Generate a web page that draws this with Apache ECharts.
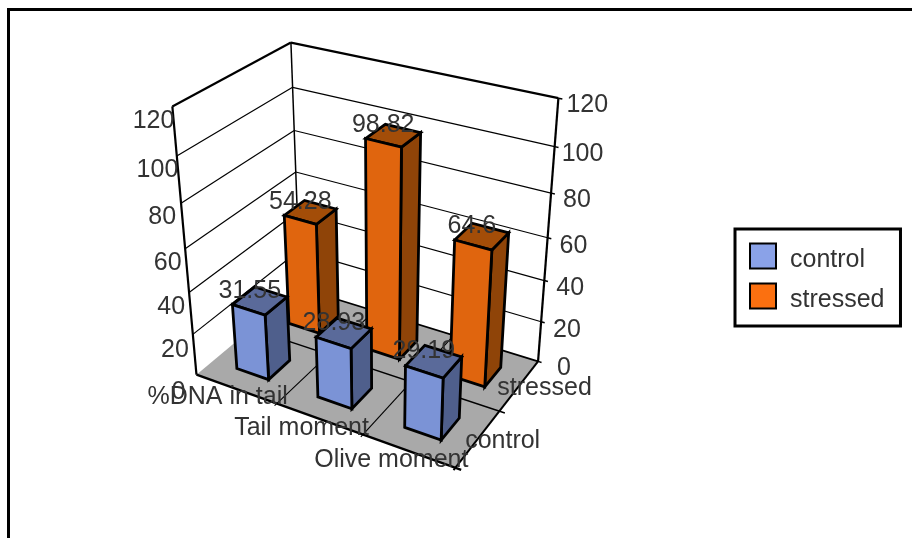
<!DOCTYPE html>
<html>
<head>
<meta charset="utf-8">
<style>html,body{margin:0;padding:0;background:#fff;overflow:hidden}#chart{width:912px;height:538px}</style>
<script src="https://cdn.jsdelivr.net/npm/echarts@6/dist/echarts.min.js"></script>
</head>
<body>
<div id="chart"></div>
<script>
// Chart values
var categories = ['%DNA in tail', 'Tail moment', 'Olive moment'];
var seriesNames = ['control', 'stressed'];
var controlValues = [31.55, 28.93, 29.19];
var stressedValues = [54.28, 98.82, 64.6];
var valueTicks = [0, 20, 40, 60, 80, 100, 120];

// Label offsets from the projected axis points, in axis order
var leftLabelShift = [[-11, 17], [-4, 16], [-4, 15], [-3.5, 14], [-5, 14], [1.5, 14], [2, 15]];
var rightLabelShift = [[19, 7], [12, 8], [12, 8], [12, 8], [12, 7], [7, 7], [8, 7]];
var categoryLabelShift = [[11, -6], [6, -6], [13, -8]];
var seriesLabelShift = [[-13, 3], [-22, 3]];

// Camera calibration: box landmarks [category, depth, value, screenX, screenY]
var anchors = [
  [0,0,0,195,373],[3,0,0,458,468],[3,2,0,537,362],[0,2,0,302,290],
  [0,0,120,172,108],[0,2,120,291,42],[3,2,120,558,98],
  [0,0,100,177.7,156.7],[0,0,80,181,204],[0,0,60,185,249],[0,0,40,188,292.7],[0,0,20,192.7,332.7],
  [3,2,100,556.7,146.7],[3,2,80,549.5,192.7],[3,2,60,546.7,237],[3,2,40,545,280.7],[3,2,20,540,322],
  [0,2,100,293,86.7],[0,2,80,294,130],[0,2,60,295.7,171.7]
];

// Least-squares projective camera (eleven unknowns, last matrix entry fixed at 1)
function solveCamera(points) {
  var n = 11, A = [], b = [], i, j, k;
  for (i = 0; i < n; i++) { A.push(new Array(n).fill(0)); b.push(0); }
  function addRow(row, rhs) {
    for (var p = 0; p < n; p++) {
      b[p] += row[p] * rhs;
      for (var q = 0; q < n; q++) A[p][q] += row[p] * row[q];
    }
  }
  points.forEach(function (a) {
    var X = a[0], Y = a[1], Z = a[2] / 100, u = a[3], v = a[4];
    addRow([X, Y, Z, 1, 0, 0, 0, 0, -u * X, -u * Y, -u * Z], u);
    addRow([0, 0, 0, 0, X, Y, Z, 1, -v * X, -v * Y, -v * Z], v);
  });
  for (i = 0; i < n; i++) {
    var piv = i;
    for (j = i + 1; j < n; j++) if (Math.abs(A[j][i]) > Math.abs(A[piv][i])) piv = j;
    var t = A[i]; A[i] = A[piv]; A[piv] = t;
    t = b[i]; b[i] = b[piv]; b[piv] = t;
    for (j = i + 1; j < n; j++) {
      var f = A[j][i] / A[i][i];
      for (k = i; k < n; k++) A[j][k] -= f * A[i][k];
      b[j] -= f * b[i];
    }
  }
  var m = new Array(n);
  for (i = n - 1; i >= 0; i--) {
    var s = b[i];
    for (k = i + 1; k < n; k++) s -= A[i][k] * m[k];
    m[i] = s / A[i][i];
  }
  return m;
}
var cam = solveCamera(anchors);
function project(c, d, v) {
  var z = v / 100, w = cam[8] * c + cam[9] * d + cam[10] * z + 1;
  return [
    (cam[0] * c + cam[1] * d + cam[2] * z + cam[3]) / w,
    (cam[4] * c + cam[5] * d + cam[6] * z + cam[7]) / w
  ];
}

var FONT = '25px "Liberation Sans"';
var TEXT = '#333333';
var BAR_WIDTH = 0.4;

function line(api, a, b, width) {
  var p = api.coord(project(a[0], a[1], a[2])), q = api.coord(project(b[0], b[1], b[2]));
  return { type: 'line', shape: { x1: p[0], y1: p[1], x2: q[0], y2: q[1] }, style: { stroke: '#000', lineWidth: width } };
}
function poly(api, corners, fill) {
  return {
    type: 'polygon',
    shape: { points: corners.map(function (k) { return api.coord(project(k[0], k[1], k[2])); }) },
    style: { fill: fill, stroke: '#000', lineWidth: 2.8, lineJoin: 'miter' }
  };
}
function text(str, x, y, align) {
  return { type: 'text', z2: 50, style: { text: str, x: x, y: y, font: FONT, fill: TEXT, align: align, verticalAlign: 'middle' } };
}

// Walls, floor, grid lines, ticks and axis labels
function renderBox(params, api) {
  var kids = [];
  kids.push({
    type: 'polygon',
    shape: { points: [[0,0,0],[3,0,0],[3,2,0],[0,2,0]].map(function (k) { return api.coord(project(k[0], k[1], k[2])); }) },
    style: { fill: '#a9a9a9' }
  });
  valueTicks.forEach(function (v, i) {
    var w = v === 120 ? 2.2 : 1.2;
    if (v > 0) kids.push(line(api, [0,0,v], [0,2,v], w));
    kids.push(line(api, [0,2,v], [3,2,v], v === 0 ? 1.8 : w));
    kids.push(line(api, [3,2,v], [3.04,2,v], 1.5));
    var l = api.coord(project(0,0,v)), r = api.coord(project(3,2,v));
    kids.push(text(String(v), l[0] + leftLabelShift[i][0], l[1] + leftLabelShift[i][1], 'right'));
    kids.push(text(String(v), r[0] + rightLabelShift[i][0], r[1] + rightLabelShift[i][1], 'left'));
  });
  kids.push(line(api, [0,0,0], [0,0,120], 2.2));
  kids.push(line(api, [0,2,0], [0,2,120], 1.5));
  kids.push(line(api, [3,2,0], [3,2,120], 2.2));
  kids.push(line(api, [1,-0.04,0], [1,2,0], 1.1));
  kids.push(line(api, [2,-0.04,0], [2,2,0], 1.1));
  kids.push(line(api, [0,1,0], [3.06,1,0], 1.4));
  kids.push(line(api, [3,-0.04,0], [3,2,0], 2));
  kids.push(line(api, [0,0,0], [3.06,0,0], 2.4));
  categories.forEach(function (name, i) {
    var p = api.coord(project(i + 1, 0, 0));
    kids.push(text(name, p[0] + categoryLabelShift[i][0], p[1] + categoryLabelShift[i][1], 'right'));
  });
  seriesNames.forEach(function (name, i) {
    var p = api.coord(project(3, i + 0.5, 0));
    kids.push(text(name, p[0] + seriesLabelShift[i][0], p[1] + seriesLabelShift[i][1], 'left'));
  });
  return { type: 'group', children: kids };
}

// One bar as three visible faces plus its value label
function barRenderer(depth, colors) {
  return function (params, api) {
    var i = api.value(0), v = api.value(1);
    var x0 = i + 0.5 - BAR_WIDTH / 2, x1 = i + 0.5 + BAR_WIDTH / 2;
    var d0 = depth + 0.5 - BAR_WIDTH / 2, d1 = depth + 0.5 + BAR_WIDTH / 2;
    var top = api.coord(project(i + 0.5, depth + 0.5, v));
    return {
      type: 'group',
      children: [
        poly(api, [[x1,d0,0],[x1,d1,0],[x1,d1,v],[x1,d0,v]], colors.side),
        poly(api, [[x0,d0,v],[x1,d0,v],[x1,d1,v],[x0,d1,v]], colors.top),
        poly(api, [[x0,d0,0],[x1,d0,0],[x1,d0,v],[x0,d0,v]], colors.front),
        text(String(v), top[0] - 10, top[1] - 10, 'center')
      ]
    };
  };
}
function toRows(values) { return values.map(function (v, i) { return [i, v]; }); }

var chart = echarts.init(document.getElementById('chart'), null, { renderer: 'canvas' });
chart.setOption({
  animation: false,
  backgroundColor: '#ffffff',
  grid: { left: 0, right: 0, top: 0, bottom: 0 },
  // Screen-space axes that carry the projected positions
  xAxis: { type: 'value', min: 0, max: 912, show: false },
  yAxis: { type: 'value', min: 0, max: 538, inverse: true, show: false },
  legend: {
    orient: 'vertical', left: 735, top: 229, padding: [10, 16, 13, 14],
    itemWidth: 26, itemHeight: 25, itemGap: 6, icon: 'rect',
    backgroundColor: '#fff', borderColor: '#000', borderWidth: 3, borderRadius: 0,
    selectedMode: false,
    formatter: '{t|{name}}',
    textStyle: {
      padding: [0, 0, 0, 9],
      rich: { t: { fontFamily: 'Liberation Sans', fontSize: 25, lineHeight: 25, color: TEXT, padding: [9, 0, 0, 0] } }
    },
    data: [
      { name: 'control', itemStyle: { color: '#8aa2e8', borderColor: '#000', borderWidth: 2 } },
      { name: 'stressed', itemStyle: { color: '#fb7010', borderColor: '#000', borderWidth: 2 } }
    ]
  },
  graphic: [{
    type: 'rect', silent: true, z: 100,
    shape: { x: 8.5, y: 9.5, width: 1000, height: 800 },
    style: { fill: 'none', stroke: '#000', lineWidth: 3 }
  }],
  series: [
    { type: 'custom', name: 'box', coordinateSystem: 'cartesian2d', silent: true, z: 1, data: [[0, 0]], renderItem: renderBox },
    { type: 'custom', name: 'stressed', coordinateSystem: 'cartesian2d', silent: true, z: 2, data: toRows(stressedValues),
      renderItem: barRenderer(1, { front: '#e0650e', side: '#8f4408', top: '#a34d08' }) },
    { type: 'custom', name: 'control', coordinateSystem: 'cartesian2d', silent: true, z: 3, data: toRows(controlValues),
      renderItem: barRenderer(0, { front: '#7b93d6', side: '#4f5f8c', top: '#5a6a9a' }) }
  ]
});
</script>
</body>
</html>
